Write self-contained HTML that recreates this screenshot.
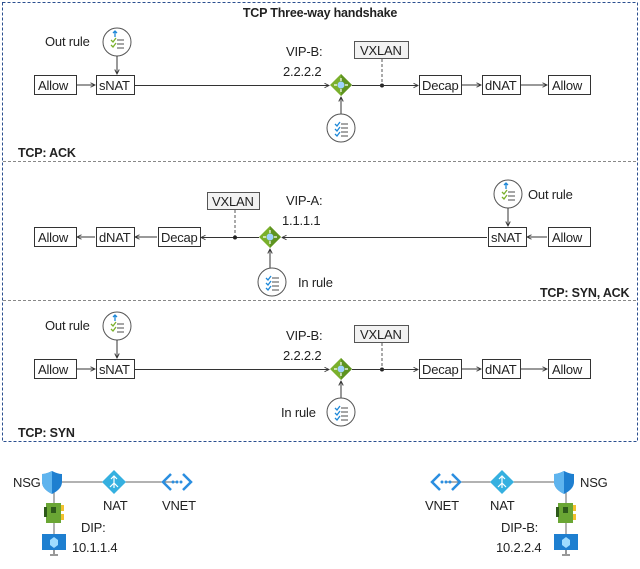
<!DOCTYPE html>
<html><head><meta charset="utf-8"><style>
html,body{margin:0;padding:0;background:#fff;width:640px;height:569px;overflow:hidden}
svg{display:block}
text{font-family:"Liberation Sans",sans-serif;font-size:13px;fill:#222;letter-spacing:-0.2px}
.b{font-weight:bold;font-size:12.5px}
.box{fill:#fff;stroke:#333;stroke-width:1}
.ln{stroke:#333;stroke-width:1;fill:none}
</style></head><body>
<svg width="640" height="569" viewBox="0 0 640 569">
<defs>
<marker id="a" viewBox="0 0 8 8" refX="7" refY="4" markerWidth="6" markerHeight="6" orient="auto"><path d="M1,1 L7,4 L1,7" fill="none" stroke="#333" stroke-width="1.2"/></marker>
<g id="dia"><path d="M0,-11 L11,0 L0,11 L-11,0Z" fill="#7ab02c"/><path d="M0,-11 L11,0 L0,11Z" fill="#5e9420"/><circle cx="0" cy="0" r="3.5" fill="#9fd3ff"/><path d="M0,-7V-4M0,4V7M-7,0H-4M4,0H7" stroke="#fff" stroke-width="1.2"/></g>
<g id="rule"><circle cx="0" cy="0" r="14" fill="#fff" stroke="#555"/><path d="M-6,-2l2,2 3,-4M-6,3l2,2 3,-4" stroke="#7ab02c" stroke-width="1.3" fill="none"/><path d="M0,-2H7M0,2H7M0,6H7" stroke="#888" stroke-width="1.5"/><path d="M-2,-5V-11M-4,-9L-2,-11 0,-9" stroke="#1e88d8" stroke-width="1.3" fill="none"/></g>
<g id="rulein"><circle cx="0" cy="0" r="14" fill="#fff" stroke="#555"/><path d="M-6,-4l2,2 3,-4M-6,1l2,2 3,-4M-6,6l2,2 3,-4" stroke="#1e88d8" stroke-width="1.3" fill="none"/><path d="M0,-4H7M0,0H7M0,4H7M0,8H7" stroke="#888" stroke-width="1.5"/></g>
<g id="shield"><path d="M0,-10 Q6,-7 10,-7 V1 Q10,8 0,13 Q-10,8 -10,1 V-7 Q-6,-7 0,-10Z" fill="#1e7fd0"/><path d="M0,-10 V13 Q-10,8 -10,1 V-7 Q-6,-7 0,-10Z" fill="#5fb4ee"/></g>
<g id="nat"><path d="M0,-12 L12,0 L0,12 L-12,0Z" fill="#35b0e0"/><path d="M0,6V-6M-3,-3L0,-6 3,-3M0,1L-4,5M0,1L4,5" stroke="#fff" stroke-width="1.2" fill="none"/></g>
<g id="vnet"><path d="M-6,-8L-14,0 -6,8M6,-8L14,0 6,8" stroke="#2a8ee0" stroke-width="2.5" fill="none"/><circle cx="-4" cy="0" r="1.5" fill="#2a8ee0"/><circle cx="0" cy="0" r="1.5" fill="#2a8ee0"/><circle cx="4" cy="0" r="1.5" fill="#2a8ee0"/></g>
<g id="nic"><rect x="-8" y="-10" width="15" height="20" fill="#6aa634"/><rect x="-10" y="-6" width="3" height="10" fill="#2e5a1a"/><rect x="7" y="-8" width="3" height="6" fill="#f2c12e"/><rect x="7" y="1" width="3" height="6" fill="#f2c12e"/><rect x="-3" y="-6" width="5" height="6" fill="#2e5a1a"/></g>
<g id="mon"><rect x="-12" y="-10" width="24" height="16" fill="#1e7fd0"/><path d="M0,-7 L4,-4 V1 L0,4 -4,1 V-4Z" fill="#9fdcff"/><path d="M-4,11 H4 M0,6 V11" stroke="#999" stroke-width="2"/></g>
</defs>
<rect x="2.5" y="2.5" width="635" height="439" fill="none" stroke="#2b4f8f" stroke-dasharray="3,2"/>
<line x1="3" y1="161.5" x2="637" y2="161.5" stroke="#888" stroke-dasharray="3,2"/>
<line x1="3" y1="300.5" x2="637" y2="300.5" stroke="#888" stroke-dasharray="3,2"/>
<text x="320" y="17" text-anchor="middle" class="b">TCP Three-way handshake</text>

<g>
<text x="45" y="46">Out rule</text>
<use href="#rule" x="117" y="42"/>
<line class="ln" x1="117" y1="56" x2="117" y2="74" marker-end="url(#a)"/>
<rect class="box" x="34.5" y="75.5" width="42" height="19"/><text x="38" y="90">Allow</text>
<line class="ln" x1="77" y1="85" x2="95" y2="85" marker-end="url(#a)"/>
<rect class="box" x="96.5" y="75.5" width="38" height="19"/><text x="99" y="90">sNAT</text>
<line class="ln" x1="135" y1="85.5" x2="329" y2="85.5" marker-end="url(#a)"/>
<text x="286" y="56">VIP-B:</text><text x="283" y="76">2.2.2.2</text>
<use href="#dia" x="341" y="85"/>
<line class="ln" x1="341" y1="114" x2="341" y2="97" marker-end="url(#a)"/>
<use href="#rulein" x="341" y="128"/>
<rect x="354.5" y="41.5" width="54" height="17" fill="#f2f2f2" stroke="#555"/><text x="360" y="55">VXLAN</text>
<line x1="382" y1="59" x2="382" y2="85" stroke="#555" stroke-dasharray="3,2"/><circle cx="382" cy="85.5" r="2" fill="#222"/>
<line class="ln" x1="352" y1="85.5" x2="418" y2="85.5" marker-end="url(#a)"/>
<rect class="box" x="419.5" y="75.5" width="42" height="19"/><text x="422" y="90">Decap</text>
<line class="ln" x1="462" y1="85" x2="481" y2="85" marker-end="url(#a)"/>
<rect class="box" x="482.5" y="75.5" width="38" height="19"/><text x="485" y="90">dNAT</text>
<line class="ln" x1="521" y1="85" x2="547" y2="85" marker-end="url(#a)"/>
<rect class="box" x="548.5" y="75.5" width="42" height="19"/><text x="552" y="90">Allow</text>
<text x="18" y="157" class="b">TCP: ACK</text>
</g>

<g>
<rect class="box" x="34.5" y="227.5" width="42" height="19"/><text x="38" y="242">Allow</text>
<line class="ln" x1="95" y1="237" x2="77" y2="237" marker-end="url(#a)"/>
<rect class="box" x="96.5" y="227.5" width="38" height="19"/><text x="99" y="242">dNAT</text>
<line class="ln" x1="157" y1="237" x2="135" y2="237" marker-end="url(#a)"/>
<rect class="box" x="158.5" y="227.5" width="42" height="19"/><text x="161" y="242">Decap</text>
<line class="ln" x1="259" y1="237.5" x2="201" y2="237.5" marker-end="url(#a)"/>
<rect x="207.5" y="192.5" width="52" height="17" fill="#f2f2f2" stroke="#555"/><text x="212" y="206">VXLAN</text>
<line x1="235" y1="210" x2="235" y2="237" stroke="#555" stroke-dasharray="3,2"/><circle cx="235" cy="237.5" r="2" fill="#222"/>
<text x="286" y="205">VIP-A:</text><text x="282" y="225">1.1.1.1</text>
<use href="#dia" x="270" y="237"/>
<line class="ln" x1="270" y1="268" x2="270" y2="249" marker-end="url(#a)"/>
<use href="#rulein" x="272" y="282"/>
<text x="298" y="287">In rule</text>
<line class="ln" x1="487" y1="237.5" x2="282" y2="237.5" marker-end="url(#a)"/>
<use href="#rule" x="508" y="194"/>
<text x="528" y="199">Out rule</text>
<line class="ln" x1="508" y1="208" x2="508" y2="226" marker-end="url(#a)"/>
<rect class="box" x="488.5" y="227.5" width="38" height="19"/><text x="491" y="242">sNAT</text>
<line class="ln" x1="547" y1="237" x2="527" y2="237" marker-end="url(#a)"/>
<rect class="box" x="548.5" y="227.5" width="42" height="19"/><text x="552" y="242">Allow</text>
<text x="540" y="297" class="b">TCP: SYN, ACK</text>
</g>

<g>
<text x="45" y="330">Out rule</text>
<use href="#rule" x="117" y="326"/>
<line class="ln" x1="117" y1="340" x2="117" y2="358" marker-end="url(#a)"/>
<rect class="box" x="34.5" y="359.5" width="42" height="19"/><text x="38" y="374">Allow</text>
<line class="ln" x1="77" y1="369" x2="95" y2="369" marker-end="url(#a)"/>
<rect class="box" x="96.5" y="359.5" width="38" height="19"/><text x="99" y="374">sNAT</text>
<line class="ln" x1="135" y1="369.5" x2="329" y2="369.5" marker-end="url(#a)"/>
<text x="286" y="340">VIP-B:</text><text x="283" y="360">2.2.2.2</text>
<use href="#dia" x="341" y="369"/>
<line class="ln" x1="341" y1="398" x2="341" y2="381" marker-end="url(#a)"/>
<use href="#rulein" x="341" y="412"/>
<text x="281" y="417">In rule</text>
<rect x="354.5" y="325.5" width="54" height="17" fill="#f2f2f2" stroke="#555"/><text x="360" y="339">VXLAN</text>
<line x1="382" y1="343" x2="382" y2="369" stroke="#555" stroke-dasharray="3,2"/><circle cx="382" cy="369.5" r="2" fill="#222"/>
<line class="ln" x1="352" y1="369.5" x2="418" y2="369.5" marker-end="url(#a)"/>
<rect class="box" x="419.5" y="359.5" width="42" height="19"/><text x="422" y="374">Decap</text>
<line class="ln" x1="462" y1="369" x2="481" y2="369" marker-end="url(#a)"/>
<rect class="box" x="482.5" y="359.5" width="38" height="19"/><text x="485" y="374">dNAT</text>
<line class="ln" x1="521" y1="369" x2="547" y2="369" marker-end="url(#a)"/>
<rect class="box" x="548.5" y="359.5" width="42" height="19"/><text x="552" y="374">Allow</text>
<text x="18" y="437" class="b">TCP: SYN</text>
</g>

<line x1="52" y1="482" x2="177" y2="482" stroke="#666"/>
<line x1="54" y1="482" x2="54" y2="545" stroke="#666"/>
<use href="#shield" x="52" y="481"/>
<use href="#nat" x="114" y="482"/>
<use href="#vnet" x="177" y="482"/>
<use href="#nic" x="54" y="513"/>
<use href="#mon" x="54" y="544"/>
<text x="13" y="487">NSG</text><text x="103" y="510">NAT</text><text x="162" y="510">VNET</text>
<text x="81" y="532">DIP:</text><text x="72" y="552">10.1.1.4</text>

<line x1="446" y1="482" x2="564" y2="482" stroke="#666"/>
<line x1="566" y1="482" x2="566" y2="545" stroke="#666"/>
<use href="#vnet" x="446" y="482"/>
<use href="#nat" x="502" y="482"/>
<use href="#shield" x="564" y="481"/>
<use href="#nic" x="566" y="513"/>
<use href="#mon" x="566" y="544"/>
<text x="580" y="487">NSG</text><text x="490" y="510">NAT</text><text x="425" y="510">VNET</text>
<text x="501" y="532">DIP-B:</text><text x="496" y="552">10.2.2.4</text>
</svg>
</body></html>
